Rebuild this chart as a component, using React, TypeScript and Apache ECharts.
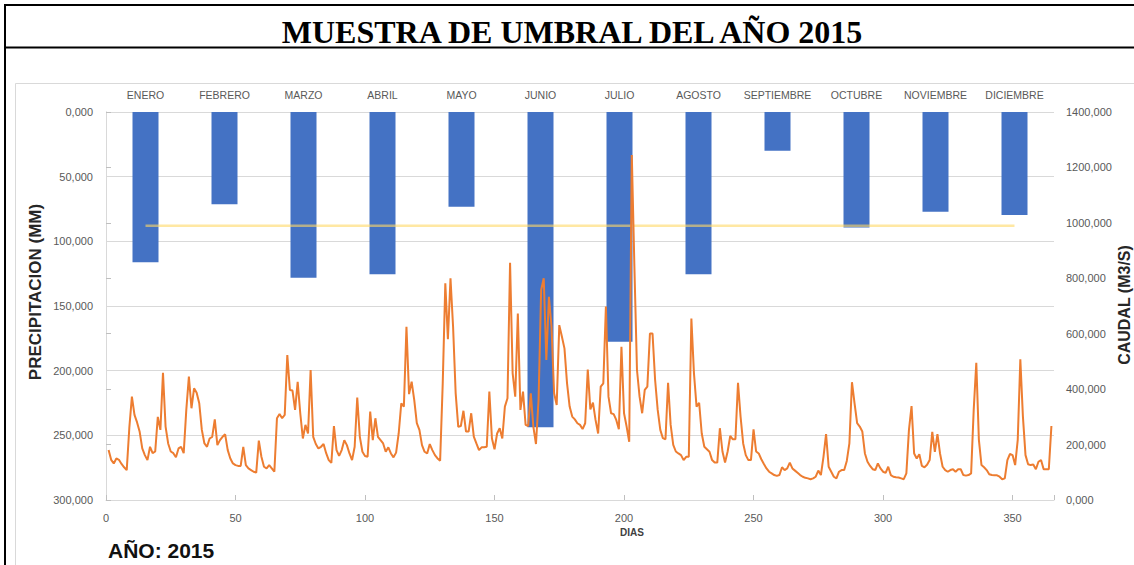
import React, { useEffect, useRef } from "react";
import * as echarts from "echarts";

const months = ["ENERO", "FEBRERO", "MARZO", "ABRIL", "MAYO", "JUNIO", "JULIO", "AGOSTO", "SEPTIEMBRE", "OCTUBRE", "NOVIEMBRE", "DICIEMBRE"];
const precipitacion = [116.2, 71.4, 128.1, 125.5, 73.2, 243.8, 177.6, 125.5, 29.9, 89.4, 77.1, 79.6];
const umbral = 990;

// Caudal diario (m3/s), día 1 … 365
const caudal = [
  180, 145, 132, 150, 145, 130, 118, 108, 260, 373,
  307, 280, 246, 186, 162, 144, 192, 169, 175, 300,
  253, 459, 265, 204, 175, 169, 154, 186, 192, 169,
  325, 445, 331, 403, 387, 349, 253, 204, 192, 222,
  228, 291, 198, 216, 228, 237, 180, 150, 132, 126,
  123, 123, 192, 126, 114, 108, 102, 99, 214, 156,
  120, 114, 126, 114, 102, 295, 310, 295, 307, 523,
  397, 395, 325, 426, 313, 222, 271, 240, 469, 228,
  202, 186, 192, 202, 169, 144, 134, 267, 180, 159,
  180, 216, 198, 168, 144, 192, 370, 228, 174, 159,
  156, 319, 216, 295, 228, 216, 204, 174, 190, 168,
  154, 171, 240, 349, 337, 625, 382, 427, 361, 277,
  253, 198, 174, 168, 202, 180, 162, 150, 142, 420,
  782, 580, 800, 625, 385, 264, 267, 322, 247, 247,
  313, 229, 204, 180, 190, 190, 192, 391, 222, 183,
  240, 259, 222, 337, 367, 856, 457, 373, 673, 325,
  391, 271, 267, 385, 264, 202, 361, 758, 800, 505,
  733, 625, 385, 343, 631, 590, 547, 421, 337, 301,
  291, 277, 271, 256, 277, 471, 327, 351, 289, 240,
  409, 421, 698, 373, 313, 310, 289, 255, 553, 313,
  265, 210, 1245, 842, 469, 373, 313, 397, 409, 601,
  601, 433, 325, 253, 223, 219, 423, 271, 199, 175,
  168, 162, 144, 156, 156, 655, 457, 337, 351, 240,
  192, 183, 174, 144, 135, 135, 259, 175, 135, 175,
  231, 219, 219, 423, 300, 204, 162, 144, 144, 255,
  175, 168, 147, 130, 114, 102, 96, 90, 87, 90,
  118, 108, 114, 135, 114, 106, 98, 90, 84, 80,
  78, 75, 78, 84, 106, 90, 156, 238, 120, 102,
  84, 78, 102, 108, 108, 141, 204, 425, 349, 277,
  265, 247, 168, 138, 123, 111, 108, 132, 114, 102,
  98, 120, 90, 84, 82, 81, 78, 75, 96, 253,
  339, 168, 150, 165, 123, 118, 127, 144, 246, 174,
  238, 168, 120, 108, 102, 108, 111, 102, 111, 111,
  90, 88, 90, 96, 325, 495, 217, 126, 118, 108,
  93, 90, 89, 89, 84, 75, 78, 144, 166, 162,
  126, 217, 508, 301, 162, 129, 126, 128, 111, 138,
  144, 111, 111, 111, 267,
];

const fmt3 = (v: number) => v.toFixed(3).replace(".", ",");
const labelColor = "#595959";
const sans = "Liberation Sans";

export default function App() {
  const ref = useRef<HTMLDivElement>(null);
  useEffect(() => {
    if (!ref.current) return;
    const chart = echarts.init(ref.current, null, { renderer: "svg" });
    const option: any = {
      animation: false,
      backgroundColor: "#ffffff",
      grid: { left: 106, right: 80, top: 112, bottom: 65, containLabel: false, outerBoundsMode: "none" },
      xAxis: [
        {
          type: "category",
          data: months,
          position: "top",
          axisLine: { show: false },
          axisTick: { show: false },
          splitLine: { show: false },
          axisLabel: { interval: 0, margin: 12, fontSize: 10.5, color: labelColor, fontFamily: sans, hideOverlap: false },
        },
        {
          type: "value",
          position: "top",
          min: 0,
          max: 366,
          interval: 50,
          axisLine: { show: true, lineStyle: { color: "#D9D9D9", width: 1 } },
          axisTick: { show: true, length: 5, lineStyle: { color: "#BFBFBF" } },
          axisLabel: { show: false },
          splitLine: { show: false },
        },
        {
          type: "value",
          position: "bottom",
          min: 0,
          max: 366,
          interval: 50,
          axisLine: { show: false },
          axisTick: { show: false },
          splitLine: { show: false },
          axisLabel: {
            margin: 12,
            fontSize: 11,
            color: labelColor,
            fontFamily: sans,
            formatter: (v: number) => (v % 50 === 0 ? String(v) : ""),
          },
        },
      ],
      yAxis: [
        {
          type: "value",
          position: "left",
          inverse: true,
          min: 0,
          max: 300,
          interval: 50,
          axisLine: { show: true, lineStyle: { color: "#D9D9D9" } },
          axisTick: { show: false },
          splitLine: { show: true, lineStyle: { color: "#D9D9D9", width: 1 } },
          axisLabel: { margin: 13, fontSize: 11, color: labelColor, fontFamily: sans, formatter: fmt3 },
        },
        {
          type: "value",
          position: "right",
          min: 0,
          max: 1400,
          interval: 200,
          axisLine: { show: true, lineStyle: { color: "#D9D9D9" } },
          axisTick: { show: true, length: 5, lineStyle: { color: "#BFBFBF" } },
          splitLine: { show: false },
          axisLabel: { margin: 12, fontSize: 11, color: labelColor, fontFamily: sans, formatter: fmt3 },
        },
      ],
      series: [
        {
          type: "bar",
          name: "Precipitación",
          xAxisIndex: 0,
          yAxisIndex: 0,
          data: precipitacion,
          barWidth: 26,
          itemStyle: { color: "#4472C4" },
          z: 2,
        },
        {
          type: "line",
          name: "Umbral",
          xAxisIndex: 0,
          yAxisIndex: 1,
          data: months.map(() => umbral),
          symbol: "none",
          lineStyle: { color: "#FFD966", width: 2.5, opacity: 0.6 },
          z: 3,
        },
        {
          type: "line",
          name: "Caudal",
          xAxisIndex: 2,
          yAxisIndex: 1,
          data: caudal.map((v, i) => [i + 1, v]),
          symbol: "none",
          lineStyle: { color: "#ED7D31", width: 2 },
          z: 4,
        },
      ],
      graphic: [
        { type: "rect", shape: { x: 5, y: 5, width: 1150, height: 600 }, style: { fill: "none", stroke: "#000", lineWidth: 2 }, silent: true },
        { type: "line", shape: { x1: 5, y1: 47.5, x2: 1140, y2: 47.5 }, style: { stroke: "#000", lineWidth: 2 }, silent: true },
        { type: "rect", shape: { x: 15.5, y: 83.5, width: 1140, height: 520 }, style: { fill: "none", stroke: "#D9D9D9", lineWidth: 1 }, silent: true },
        {
          type: "text",
          x: 572,
          y: 32,
          style: { text: "MUESTRA DE UMBRAL DEL AÑO 2015", fontFamily: "Liberation Serif", fontWeight: "bold", fontSize: 32, fill: "#000", align: "center", verticalAlign: "middle", textAlign: "center", textVerticalAlign: "middle" },
        },
        {
          type: "text",
          x: 35,
          y: 292,
          rotation: Math.PI / 2,
          style: { text: "PRECIPITACION (MM)", fontFamily: sans, fontWeight: "bold", fontSize: 17, fill: "#262626", align: "center", verticalAlign: "middle", textAlign: "center", textVerticalAlign: "middle" },
        },
        {
          type: "text",
          x: 1124,
          y: 305,
          rotation: Math.PI / 2,
          style: { text: "CAUDAL (M3/S)", fontFamily: sans, fontWeight: "bold", fontSize: 16, fill: "#262626", align: "center", verticalAlign: "middle", textAlign: "center", textVerticalAlign: "middle" },
        },
        {
          type: "text",
          x: 632,
          y: 532,
          style: { text: "DIAS", fontFamily: sans, fontWeight: "bold", fontSize: 10, fill: "#404040", align: "center", verticalAlign: "middle", textAlign: "center", textVerticalAlign: "middle" },
        },
        {
          type: "text",
          x: 108,
          y: 550,
          style: { text: "AÑO: 2015", fontFamily: sans, fontWeight: "bold", fontSize: 21, fill: "#111", align: "left", verticalAlign: "middle", textAlign: "left", textVerticalAlign: "middle" },
        },
      ],
    };
    chart.setOption(option);
    return () => chart.dispose();
  }, []);
  return <div ref={ref} style={{ position: "absolute", left: 0, top: 0, width: 1134, height: 565, background: "#fff" }} />;
}
